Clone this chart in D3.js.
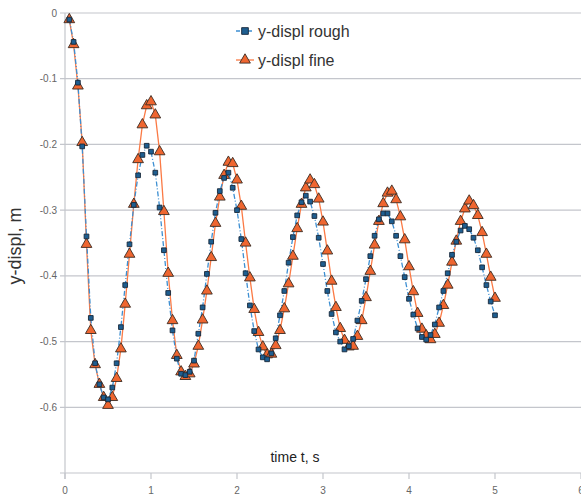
<!doctype html>
<html lang="en">
<head>
    <meta charset="UTF-8">
    <title>y-displ</title>
    <style>
        html, body {
            margin: 0;
            padding: 0;
            background: #fff;
        }

        svg {
            display: block;
            font-family: 'Liberation Sans', Arial, sans-serif;
        }

        .grid line {
            stroke: #c4c6cc;
            stroke-width: 1.2;
        }

        .tick-label {
            font-size: 10px;
            fill: #666;
        }
    </style>
</head>
<body>
<svg width="581" height="497"></svg>
<script src="https://d3js.org/d3.v7.min.js"></script>
<script>
  (function () {
    // time grid, s
    const times = d3.range(1, 101).map(i => +(i * 0.05).toFixed(2))

    const roughY = [
      -0.010, -0.044, -0.106, -0.203, -0.340, -0.464, -0.533, -0.565, -0.585, -0.588,
      -0.570, -0.533, -0.478, -0.414, -0.352, -0.292, -0.247, -0.216, -0.202, -0.211,
      -0.243, -0.296, -0.361, -0.426, -0.483, -0.526, -0.549, -0.551, -0.546, -0.529,
      -0.488, -0.448, -0.397, -0.348, -0.304, -0.271, -0.251, -0.243, -0.266, -0.300,
      -0.344, -0.396, -0.445, -0.484, -0.512, -0.524, -0.527, -0.518, -0.495, -0.460,
      -0.423, -0.380, -0.341, -0.308, -0.288, -0.278, -0.287, -0.309, -0.342, -0.382,
      -0.423, -0.458, -0.486, -0.500, -0.512, -0.507, -0.496, -0.468, -0.438, -0.405,
      -0.370, -0.339, -0.314, -0.305, -0.305, -0.317, -0.339, -0.370, -0.402, -0.435,
      -0.459, -0.480, -0.493, -0.497, -0.490, -0.474, -0.448, -0.423, -0.396, -0.368,
      -0.348, -0.331, -0.324, -0.329, -0.342, -0.361, -0.387, -0.414, -0.439, -0.460
    ]

    const fineY = [
      -0.010, -0.048, -0.111, -0.197, -0.352, -0.483, -0.535, -0.565, -0.585, -0.597,
      -0.585, -0.556, -0.511, -0.443, -0.367, -0.291, -0.223, -0.170, -0.141, -0.135,
      -0.155, -0.211, -0.302, -0.396, -0.468, -0.521, -0.546, -0.553, -0.549, -0.534,
      -0.507, -0.467, -0.423, -0.372, -0.320, -0.280, -0.247, -0.227, -0.229, -0.254,
      -0.294, -0.350, -0.403, -0.451, -0.486, -0.508, -0.520, -0.519, -0.506, -0.483,
      -0.450, -0.412, -0.370, -0.328, -0.291, -0.266, -0.254, -0.261, -0.283, -0.318,
      -0.362, -0.408, -0.448, -0.480, -0.498, -0.508, -0.507, -0.492, -0.468, -0.433,
      -0.393, -0.353, -0.317, -0.290, -0.274, -0.271, -0.284, -0.310, -0.345, -0.386,
      -0.424, -0.457, -0.481, -0.491, -0.497, -0.489, -0.472, -0.445, -0.414, -0.379,
      -0.347, -0.317, -0.298, -0.286, -0.293, -0.308, -0.334, -0.367, -0.402, -0.434
    ]

    const xTicks = [0, 1, 2, 3, 4, 5, 6]
    const yTicks = [0, -0.1, -0.2, -0.3, -0.4, -0.5, -0.6]
    const yGrid = [0, -0.1, -0.2, -0.3, -0.4, -0.5, -0.6, -0.7]

    const seriesNames = ['y-displ rough', 'y-displ fine']

    const svg = d3.select('svg')
    const left = 65, right = 581, top = 13, bottom = 473

    const x = d3.scaleLinear().domain([0, 6]).range([left, right])
    const y = d3.scaleLinear().domain([-0.7, 0]).range([bottom, top])

    // horizontal grid
    svg.append('g')
      .attr('class', 'grid')
      .selectAll('line')
      .data(yGrid)
      .enter()
      .append('line')
      .attr('x1', left - 5)
      .attr('x2', right)
      .attr('y1', d => y(d))
      .attr('y2', d => y(d))

    // y axis line
    svg.append('line')
      .attr('x1', left).attr('x2', left)
      .attr('y1', top).attr('y2', bottom + 6)
      .attr('stroke', '#c4c6cc')
      .attr('stroke-width', 1.2)

    // x axis ticks
    svg.append('g')
      .selectAll('line')
      .data(xTicks)
      .enter()
      .append('line')
      .attr('x1', d => x(d)).attr('x2', d => x(d))
      .attr('y1', bottom).attr('y2', bottom + 6)
      .attr('stroke', '#c4c6cc')
      .attr('stroke-width', 1.2)

    svg.append('g')
      .selectAll('text')
      .data(xTicks)
      .enter()
      .append('text')
      .attr('class', 'tick-label')
      .attr('x', d => x(d))
      .attr('y', bottom + 21)
      .attr('text-anchor', 'middle')
      .text(d => d)

    svg.append('g')
      .selectAll('text')
      .data(yTicks)
      .enter()
      .append('text')
      .attr('class', 'tick-label')
      .attr('x', left - 8)
      .attr('y', d => y(d))
      .attr('dy', '0.35em')
      .attr('text-anchor', 'end')
      .text(d => d === 0 ? '0' : d3.format('.1f')(d).replace('−', '-'))

    // axis titles
    svg.append('text')
      .attr('x', 295)
      .attr('y', 462)
      .attr('text-anchor', 'middle')
      .attr('font-size', 14)
      .attr('fill', '#222')
      .text('time t, s')

    svg.append('text')
      .attr('transform', `translate(21, 246) rotate(-90)`)
      .attr('text-anchor', 'middle')
      .attr('font-size', 18)
      .attr('fill', '#333')
      .text('y-displ, m')

    const rough = times.map((t, i) => [t, roughY[i]])
    const fine = times.map((t, i) => [t, fineY[i]])

    const line = d3.line().x(d => x(d[0])).y(d => y(d[1]))

    svg.append('path')
      .datum(fine)
      .attr('d', line)
      .attr('fill', 'none')
      .attr('stroke', '#fb7a45')
      .attr('stroke-width', 1.3)

    svg.append('path')
      .datum(rough)
      .attr('d', line)
      .attr('fill', 'none')
      .attr('stroke', '#3d8fd2')
      .attr('stroke-width', 1.3)
      .attr('stroke-dasharray', '5,2,1,2')

    const tri = d3.symbol().type(d3.symbolTriangle).size(50)
    const sq = d3.symbol().type(d3.symbolSquare).size(22)

    svg.append('g')
      .selectAll('path')
      .data(fine)
      .enter()
      .append('path')
      .attr('d', tri)
      .attr('transform', d => `translate(${x(d[0])},${y(d[1])})`)
      .attr('fill', '#ef6630')
      .attr('stroke', '#3b2b22')
      .attr('stroke-width', 0.9)

    svg.append('g')
      .selectAll('path')
      .data(rough)
      .enter()
      .append('path')
      .attr('d', sq)
      .attr('transform', d => `translate(${x(d[0])},${y(d[1])})`)
      .attr('fill', '#1e5e90')
      .attr('stroke', '#17283a')
      .attr('stroke-width', 0.9)

    // legend
    const legend = svg.append('g').attr('transform', 'translate(236, 31)')

    const rows = legend.selectAll('g')
      .data(seriesNames)
      .enter()
      .append('g')
      .attr('transform', (d, i) => `translate(0, ${i * 29})`)

    rows.append('line')
      .attr('x1', 0).attr('x2', 18)
      .attr('y1', 0).attr('y2', 0)
      .attr('stroke', (d, i) => i ? '#fb7a45' : '#3d8fd2')
      .attr('stroke-width', 1.3)
      .attr('stroke-dasharray', (d, i) => i ? null : '4,2')

    rows.append('path')
      .attr('d', (d, i) => i ? tri() : d3.symbol().type(d3.symbolSquare).size(45)())
      .attr('transform', 'translate(9, 0)')
      .attr('fill', (d, i) => i ? '#ef6630' : '#1e5e90')
      .attr('stroke', (d, i) => i ? '#3b2b22' : '#17283a')
      .attr('stroke-width', 0.9)

    rows.append('text')
      .attr('x', 22)
      .attr('y', 0)
      .attr('dy', '0.35em')
      .attr('font-size', 16)
      .attr('fill', '#333')
      .text(d => d)
  })()
</script>
</body>
</html>
